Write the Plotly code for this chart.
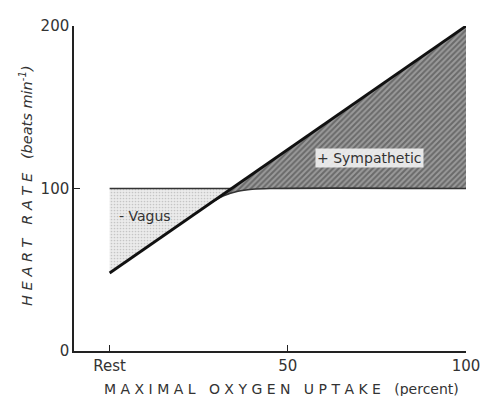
import plotly.graph_objects as go

# ---- data ----
x_total = [0, 100]            # % maximal oxygen uptake (0 = Rest)
y_total = [48, 200]           # heart rate, beats/min
x_intrinsic = [0, 34.2]       # flat intrinsic rate (vagus boundary)
y_intrinsic = [100, 100]
x_curve = [28, 32, 36, 40, 45, 100]      # lower boundary of sympathetic area
y_curve = [90.6, 95.5, 98.3, 99.5, 100, 100]
x_ticks = [0, 50, 100]
x_tick_labels = ["Rest", "50", "100"]
y_ticks = [0, 100, 200]
y_tick_labels = ["0", "100", "200"]

FONT = "DejaVu Sans"

def total_at(x):
    return y_total[0] + (y_total[1] - y_total[0]) * (x - x_total[0]) / (x_total[1] - x_total[0])

fig = go.Figure()

# vagus area (between intrinsic 100 line and total line)
vx = [x_intrinsic[0], x_intrinsic[1], x_total[0], x_intrinsic[0]]
vy = [y_intrinsic[0], y_intrinsic[1], total_at(x_total[0]), y_intrinsic[0]]
fig.add_trace(go.Scatter(
    x=vx, y=vy, mode="lines", fill="toself", line=dict(width=0),
    fillcolor="#e6e6e6",
    fillpattern=dict(shape=".", fgcolor="#a0a0a0", bgcolor="#ebebeb", size=3, solidity=0.25),
    hoverinfo="skip", showlegend=False, cliponaxis=False))

# sympathetic area (between total line and curve)
sx = [x_curve[0], x_total[1]] + x_curve[::-1]
sy = [total_at(x_curve[0]), y_total[1]] + y_curve[::-1]
fig.add_trace(go.Scatter(
    x=sx, y=sy, mode="lines", fill="toself", line=dict(width=0),
    fillcolor="#7a7a7a",
    fillpattern=dict(shape="/", fgcolor="#3a3a3a", bgcolor="#9a9a9a", size=4, solidity=0.5),
    hoverinfo="skip", showlegend=False, cliponaxis=False))

# intrinsic line and curve
fig.add_trace(go.Scatter(x=x_intrinsic, y=y_intrinsic, mode="lines",
                         line=dict(color="#333333", width=1.6),
                         hoverinfo="skip", showlegend=False, cliponaxis=False))
fig.add_trace(go.Scatter(x=x_curve, y=y_curve, mode="lines",
                         line=dict(color="#333333", width=1.6, shape="spline"),
                         hoverinfo="skip", showlegend=False, cliponaxis=False))
# total heart rate line
fig.add_trace(go.Scatter(x=x_total, y=y_total, mode="lines",
                         line=dict(color="#111111", width=2.8),
                         hoverinfo="skip", showlegend=False, cliponaxis=False))

fig.add_annotation(x=73, y=119, text="+ Sympathetic", showarrow=False,
                   font=dict(family=FONT, size=14, color="#333333"),
                   bgcolor="rgba(240,240,240,0.92)", borderpad=1)
fig.add_annotation(x=10, y=83, text="- Vagus", showarrow=False,
                   font=dict(family=FONT, size=14, color="#333333"))

# axis titles
fig.add_annotation(xref="paper", yref="paper", x=0.53, y=0, yshift=-28,
                   xanchor="center", yanchor="top", showarrow=False,
                   text="M A X I M A L   O X Y G E N   U P T A K E   (percent)",
                   font=dict(family=FONT, size=14, color="#333333"))
fig.add_annotation(xref="paper", yref="paper", x=0, xshift=-48, y=0.508,
                   xanchor="center", yanchor="middle", showarrow=False, textangle=-90,
                   text="<i>H E A R T   R A T E   (beats min<sup>-1</sup>)</i>",
                   font=dict(family=FONT, size=14.5, color="#333333"))

fig.update_xaxes(range=[-10, 100], tickvals=x_ticks, ticktext=x_tick_labels,
                 showgrid=False, zeroline=False, showline=True, linecolor="#222222",
                 linewidth=1.5, ticks="inside", ticklen=6, tickcolor="#222222",
                 automargin=False,
                 tickfont=dict(family=FONT, size=15, color="#333333"))
fig.update_yaxes(range=[0, 200], tickvals=y_ticks, ticktext=y_tick_labels,
                 showgrid=False, zeroline=False, showline=True, linecolor="#222222",
                 linewidth=1.5, ticks="inside", ticklen=6, tickcolor="#222222",
                 automargin=False,
                 tickfont=dict(family=FONT, size=15, color="#333333"))

fig.update_layout(width=483, height=396, plot_bgcolor="white", paper_bgcolor="white",
                  margin=dict(l=74, r=17, t=26, b=45, autoexpand=False))

fig.write_html("out.html", config={"displayModeBar": False},
               post_script="document.body.style.margin='0';document.body.style.overflow='hidden';")
